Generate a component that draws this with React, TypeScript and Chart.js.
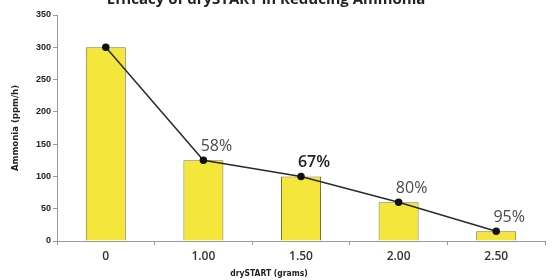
import React, { useEffect, useRef } from "react";
import { Chart, registerables } from "chart.js";

Chart.register(...registerables);

const categories = ["0", "1.00", "1.50", "2.00", "2.50"];
const ammonia = [300, 125, 100, 60, 15];
const reductionLabels = ["", "58%", "67%", "80%", "95%"];
const yTicks = [0, 50, 100, 150, 200, 250, 300, 350];
const chartTitle = "Efficacy of drySTART in Reducing Ammonia";
const xTitle = "drySTART (grams)";
const yTitle = "Ammonia (ppm/h)";

const textPlugin = {
  id: "texts",
  afterDatasetsDraw(chart: any) {
    const ctx = chart.ctx;
    const meta = chart.getDatasetMeta(1);
    ctx.save();
    ctx.textAlign = "center";
    ctx.textBaseline = "alphabetic";
    meta.data.forEach((pt: any, i: number) => {
      const label = reductionLabels[i];
      if (!label) return;
      const bold = i === 2;
      ctx.font = `${bold ? "600" : "400"} 16px "Open Sans", sans-serif`;
      ctx.fillStyle = bold ? "#222" : "#4a4a4a";
      ctx.fillText(label, pt.x + 13, pt.y - 9);
    });
    // title (partially cut at top)
    ctx.font = `bold 15px "Open Sans", sans-serif`;
    ctx.fillStyle = "#222";
    ctx.fillText(chartTitle, 266, 4);
    // x title
    ctx.font = `bold 8.5px "Liberation Sans Narrow", "DejaVu Sans Condensed", sans-serif`;
    ctx.fillStyle = "#222";
    ctx.fillText(xTitle, 269, 276);
    // y title
    ctx.font = `bold 9.5px "Liberation Sans Narrow", "DejaVu Sans Condensed", sans-serif`;
    ctx.translate(18, 128);
    ctx.rotate(-Math.PI / 2);
    ctx.fillText(yTitle, 0, 0);
    ctx.restore();
  },
};

export default function App() {
  const ref = useRef<HTMLCanvasElement>(null);
  useEffect(() => {
    const chart = new Chart(ref.current!, {
      type: "bar",
      data: {
        labels: categories,
        datasets: [
          {
            type: "bar",
            data: ammonia,
            backgroundColor: "#f5e63c",
            borderColor: "#7d7530",
            borderWidth: 1,
            barPercentage: 0.41,
            categoryPercentage: 1,
            order: 2,
          },
          {
            type: "line",
            data: ammonia,
            borderColor: "#2b2b2b",
            borderWidth: 1.5,
            pointRadius: 3,
            pointBackgroundColor: "#111",
            pointBorderColor: "#111",
            order: 1,
          } as any,
        ],
      },
      options: {
        animation: false,
        responsive: false,
        layout: { padding: { left: 0, right: 8, top: 15, bottom: 0 } },
        plugins: { legend: { display: false }, tooltip: { enabled: false } },
        scales: {
          x: {
            offset: true,
            grid: { offset: true, drawOnChartArea: false, tickLength: 4, color: "#999" },
            border: { color: "#999", width: 1 },
            ticks: {
              color: "#333",
              font: { size: 12, family: '"Open Sans", sans-serif', weight: "600" },
              padding: 4,
            },
            afterFit: (s: any) => {
              s.height = 39;
            },
          },
          y: {
            min: 0,
            max: 350,
            afterBuildTicks: (s: any) => {
              s.ticks = yTicks.map((v) => ({ value: v }));
            },
            grid: { drawOnChartArea: false, tickLength: 4, color: "#999" },
            border: { color: "#999", width: 1 },
            ticks: {
              color: "#222",
              font: { size: 9, family: '"Liberation Sans Narrow", sans-serif', weight: "bold" },
              padding: 2,
            },
            afterFit: (s: any) => {
              s.width = 57;
            },
          },
        },
      },
      plugins: [textPlugin],
    });
    return () => chart.destroy();
  }, []);
  return (
    <div style={{ position: "fixed", left: 0, top: 0, width: 553, height: 280, background: "#fff" }}>
      <canvas ref={ref} width={553} height={280} />
    </div>
  );
}
